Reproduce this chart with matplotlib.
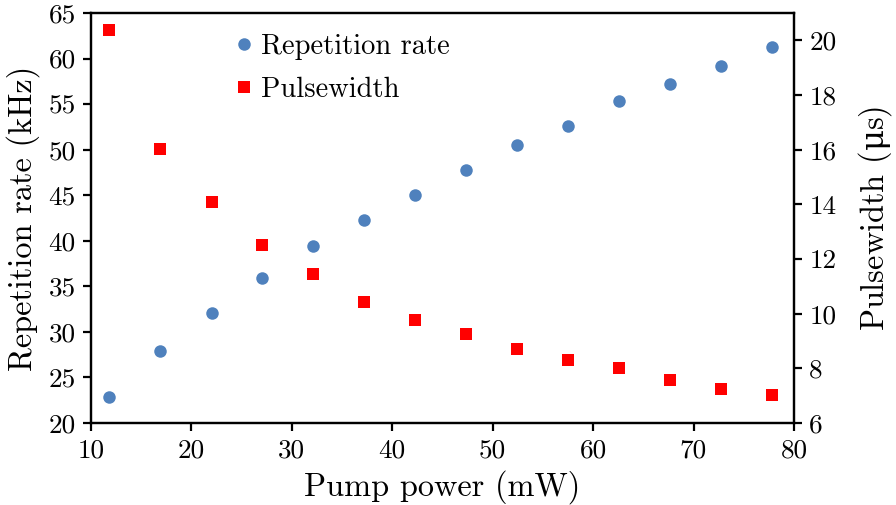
import matplotlib
matplotlib.use("Agg")
import matplotlib.pyplot as plt

plt.rcParams['font.family'] = ['cmr10', 'DejaVu Serif']
plt.rcParams['mathtext.fontset'] = 'custom'
plt.rcParams['mathtext.rm'] = 'DejaVu Serif'
plt.rcParams['axes.formatter.use_mathtext'] = False

pump_power = [11.8, 16.9, 22.0, 27.0, 32.1, 37.2, 42.3, 47.3, 52.4, 57.5, 62.6, 67.7, 72.7, 77.8]
rep_rate = [22.8, 27.9, 32.1, 35.9, 39.4, 42.3, 45.0, 47.8, 50.5, 52.6, 55.3, 57.2, 59.2, 61.3]
pulsewidth = [20.36, 16.02, 14.09, 12.52, 11.46, 10.43, 9.76, 9.27, 8.72, 8.32, 8.0, 7.56, 7.24, 7.01]

x_ticks = [10, 20, 30, 40, 50, 60, 70, 80]
left_ticks = [20, 25, 30, 35, 40, 45, 50, 55, 60, 65]
right_ticks = [6, 8, 10, 12, 14, 16, 18, 20]

fs_tick = 19.6
fs_label = 23.3
fs_leg = 20.5
fig = plt.figure(figsize=(8.96, 5.05), dpi=100)
ax = fig.add_axes([91/896, 1-423/505, (794-91)/896, (423-13)/505])
ax2 = ax.twinx()

h1, = ax.plot(pump_power, rep_rate, 'o', color='#4f81bd', markersize=9.0, markeredgewidth=0, label='Repetition rate')
h2, = ax2.plot(pump_power, pulsewidth, 's', color='#ff0000', markersize=8.8, markeredgewidth=0, label='Pulsewidth')

ax.set_xlim(10, 80)
ax.set_ylim(20, 65)
ax2.set_ylim(6, 21)
ax.set_xticks(x_ticks)
ax.set_yticks(left_ticks)
ax2.set_yticks(right_ticks)

for a in (ax, ax2):
    for s in a.spines.values():
        s.set_linewidth(1.6)
    a.tick_params(direction='out', length=6, width=1.6, labelsize=fs_tick, pad=5)

ax.set_xlabel('Pump power (mW)', fontsize=fs_label, labelpad=6)
ax.set_ylabel('Repetition rate (kHz)', fontsize=fs_label, labelpad=6)
ax2.set_ylabel('Pulsewidth ($\\mathrm{\\mu}$s)', fontsize=fs_label, labelpad=14)

ax.legend(handles=[h1, h2], loc='upper left', bbox_to_anchor=(0.2055, 0.950), frameon=False,
          fontsize=fs_leg, handlelength=0.6, handletextpad=0.3, labelspacing=0.6, borderaxespad=0,
          borderpad=0)

fig.savefig('out.png', dpi=100)
